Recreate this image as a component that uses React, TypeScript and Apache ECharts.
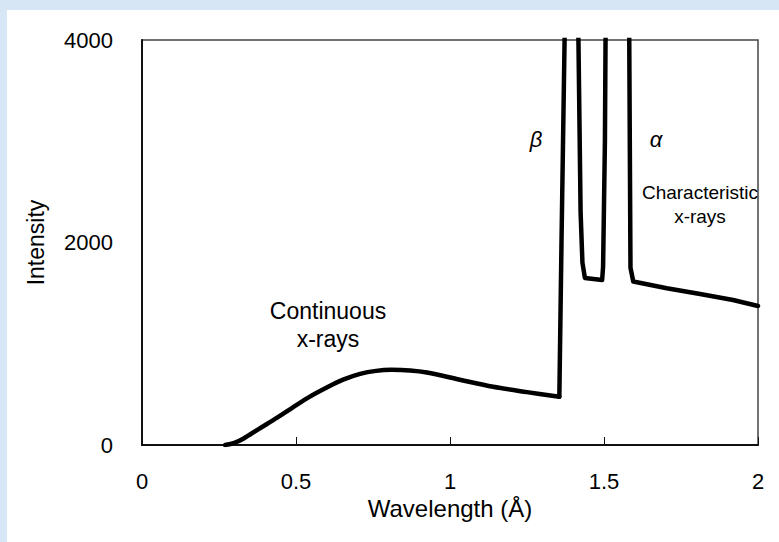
import React, { useEffect, useRef } from "react";
import * as echarts from "echarts";

// Continuous spectrum (bremsstrahlung)
const contWavelength = [
  0.27, 0.3, 0.33, 0.38, 0.44, 0.49, 0.545, 0.6, 0.653, 0.708, 0.76, 0.81, 0.87, 0.925,
  1.032, 1.14, 1.25, 1.355,
];
const contIntensity = [
  0, 22, 65, 160, 272, 372, 478, 568, 645, 702, 732, 742, 736, 716,
  645, 575, 522, 476,
];
// Characteristic lines (K-beta, K-alpha) and the continuum after them
const charWavelength = [
  1.355, 1.362, 1.372, 1.374, 1.415, 1.417, 1.424, 1.43, 1.438, 1.494, 1.497,
  1.503, 1.505, 1.507, 1.58, 1.582, 1.586, 1.595, 1.704, 1.812, 1.919, 2.0,
];
const charIntensity = [
  476, 2000, 4000, 4300, 4300, 4000, 2300, 1800, 1650, 1630, 1760,
  3000, 4000, 4300, 4300, 4000, 1750, 1615, 1548, 1491, 1432, 1373,
];
const xTicks = [0, 0.5, 1, 1.5, 2];
const yTicks = [0, 2000, 4000];
const xTitle = "Wavelength (Å)";
const yTitle = "Intensity";
const notes = [
  { text: "Continuous\nx-rays", x: 321, y: 315, size: 23, italic: false },
  { text: "β", x: 529, y: 129, size: 22, italic: true },
  { text: "α", x: 649, y: 129, size: 22, italic: true },
  { text: "Characteristic\nx-rays", x: 693, y: 194, size: 19, italic: false },
];

const FONT = "'Liberation Sans', Arial, sans-serif";

export default function App() {
  const ref = useRef<HTMLDivElement>(null);
  useEffect(() => {
    if (!ref.current) return;
    const chart = echarts.init(ref.current, undefined, { renderer: "svg" });
    const lineStyle = { color: "#000", width: 4.5, join: "round", cap: "round" };
    chart.setOption({
      animation: false,
      backgroundColor: "#ffffff",
      grid: {
        left: 135,
        top: 30,
        right: 41,
        bottom: 115,
        show: true,
        borderColor: "#444",
        borderWidth: 1.5,
      },
      xAxis: {
        type: "value",
        min: xTicks[0],
        max: xTicks[xTicks.length - 1],
        interval: 0.5,
        name: xTitle,
        nameLocation: "middle",
        nameGap: 51,
        nameTextStyle: { fontFamily: FONT, fontSize: 24, color: "#000" },
        axisLine: { show: true, onZero: false, lineStyle: { color: "#111", width: 2 } },
        axisTick: { show: true, inside: true, length: 8, lineStyle: { color: "#111", width: 1 } },
        axisLabel: { margin: 25, fontFamily: FONT, fontSize: 22, color: "#000" },
        splitLine: { show: false },
      },
      yAxis: {
        type: "value",
        min: yTicks[0],
        max: yTicks[yTicks.length - 1],
        interval: 2000,
        name: yTitle,
        nameLocation: "middle",
        nameGap: 95,
        nameRotate: 90,
        nameTextStyle: { fontFamily: FONT, fontSize: 23, color: "#000" },
        axisLine: { show: true, onZero: false, lineStyle: { color: "#111", width: 2 } },
        axisTick: { show: false },
        axisLabel: {
          margin: 29,
          fontFamily: FONT,
          fontSize: 22,
          color: "#000",
          formatter: (v: number) => String(v),
        },
        splitLine: { show: false },
      },
      series: [
        {
          type: "line",
          data: contWavelength.map((w, i) => [w, contIntensity[i]]),
          smooth: 0.35,
          showSymbol: false,
          symbol: "none",
          clip: true,
          lineStyle,
        },
        {
          type: "line",
          data: charWavelength.map((w, i) => [w, charIntensity[i]]),
          showSymbol: false,
          symbol: "none",
          clip: true,
          lineStyle,
        },
      ],
      graphic: notes.map((n) => ({
        type: "text",
        x: n.x,
        y: n.y,
        style: {
          text: n.text,
          fontFamily: FONT,
          fontSize: n.size,
          fontStyle: n.italic ? "italic" : "normal",
          fill: "#000",
          align: "center",
          verticalAlign: "middle",
          lineHeight: n.size + 5,
        },
      })),
    });
    return () => chart.dispose();
  }, []);
  return (
    <div style={{ position: "fixed", left: 0, top: 0, width: 800, height: 560, background: "#d6e6f4", overflow: "hidden" }}>
      <div ref={ref} style={{ position: "absolute", left: 7, top: 10, width: 792, height: 550 }} />
    </div>
  );
}
